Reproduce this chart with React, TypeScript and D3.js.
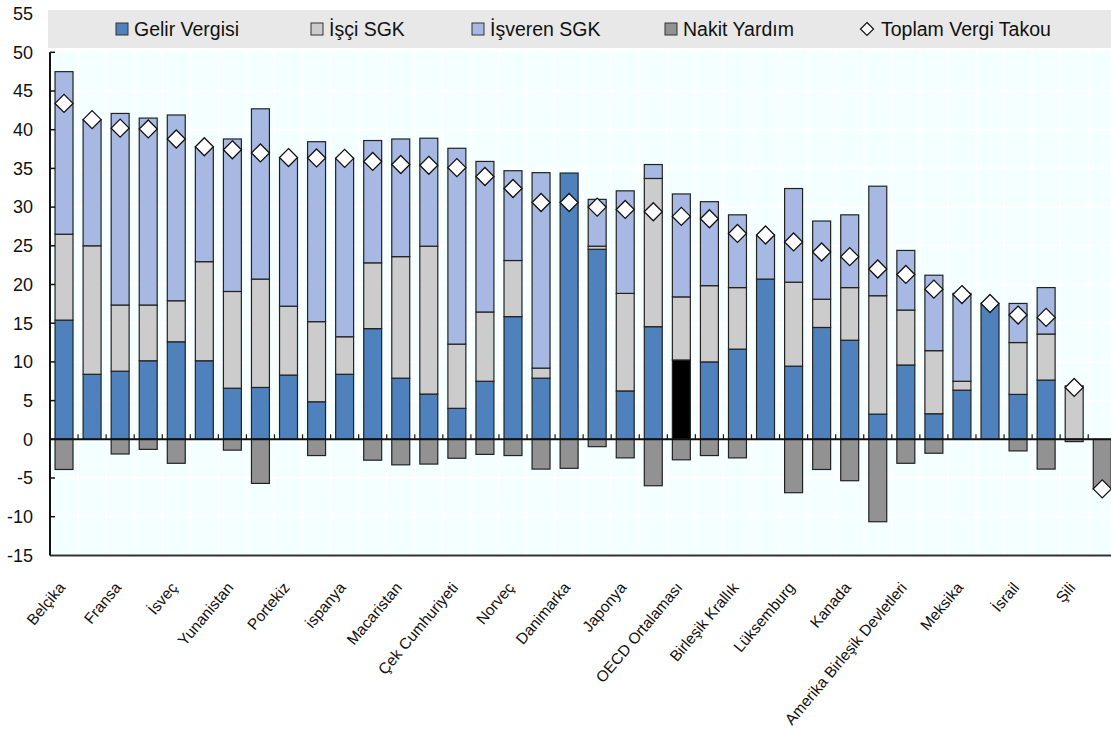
import React from "react";
import * as d3 from "d3";

// countries, every other one is labelled on the axis
const categories = [
  "Belçika", "Almanya", "Fransa", "Avusturya", "İsveç", "Finlandiya", "Yunanistan", "İtalya",
  "Portekiz", "Slovenya", "ispanya", "Türkiye", "Macaristan", "Slovakya", "Çek Cumhuriyeti", "Estonya",
  "Norveç", "Hollanda", "Danimarka", "İzlanda", "Japonya", "Polonya", "OECD Ortalaması", "Letonya",
  "Birleşik Krallık", "Avustralya", "Lüksemburg", "Kore", "Kanada", "İrlanda",
  "Amerika Birleşik Devletleri", "İsviçre", "Meksika", "Yeni Zelanda", "İsrail", "Litvanya", "Şili", "Malta",
];

const gelirVergisi = [
  15.4, 8.4, 8.8, 10.15, 12.6, 10.15, 6.6, 6.7, 8.3, 4.85, 8.4, 14.3, 7.9, 5.85, 4.0, 7.5, 15.85, 7.9, 34.4,
  24.55, 6.25, 14.55, 10.25, 10.0, 11.65, 20.7, 9.45, 14.45, 12.8, 3.25, 9.6, 3.3, 6.35, 17.55, 5.8, 7.65, 0, 0,
];
const isciSGK = [
  11.1, 16.6, 8.55, 7.2, 5.3, 12.8, 12.5, 14.0, 8.9, 10.35, 4.85, 8.5, 15.7, 19.1, 8.3, 8.95, 7.25, 1.3, 0,
  0.4, 12.6, 19.15, 8.15, 9.85, 7.95, 0, 10.85, 3.65, 6.8, 15.3, 7.1, 8.15, 1.15, 0, 6.7, 5.95, 6.9, 0,
];
const isverenSGK = [
  21.0, 16.3, 24.75, 24.15, 24.0, 14.85, 19.7, 22.0, 19.2, 23.25, 23.05, 15.8, 15.2, 13.95, 25.3, 19.45, 11.6,
  25.25, 0, 6.05, 13.25, 1.8, 13.3, 10.85, 9.4, 5.7, 12.1, 10.1, 9.4, 14.15, 7.7, 9.75, 11.35, 0, 5.05, 6.0, 0, 0,
];
const nakitYardim = [
  -3.9, 0, -1.9, -1.3, -3.1, 0, -1.4, -5.7, 0, -2.1, 0, -2.7, -3.3, -3.2, -2.45, -1.95, -2.1, -3.85, -3.75,
  -0.95, -2.4, -6.0, -2.65, -2.1, -2.4, 0, -6.9, -3.9, -5.35, -10.65, -3.1, -1.8, 0, 0, -1.5, -3.85, -0.3, -6.45,
];
const toplamVergiTakou = [
  43.4, 41.3, 40.2, 40.1, 38.8, 37.8, 37.4, 37.0, 36.4, 36.35, 36.3, 35.9, 35.5, 35.4, 35.1, 33.95, 32.4, 30.6,
  30.6, 30.0, 29.7, 29.4, 28.8, 28.5, 26.6, 26.4, 25.5, 24.2, 23.6, 22.0, 21.3, 19.4, 18.7, 17.55, 16.05, 15.75,
  6.7, -6.4,
];

const yTicks = [-15, -10, -5, 0, 5, 10, 15, 20, 25, 30, 35, 40, 45, 50, 55];

const keys = ["gelir", "isci", "isveren", "nakit"];
const colors: Record<string, string> = {
  gelir: "#4f81bd",
  isci: "#cccccc",
  isveren: "#a7b9e3",
  nakit: "#929292",
};
const legendNames = ["Gelir Vergisi", "İşçi SGK", "İşveren SGK", "Nakit Yardım"];
const legendX = [116, 311, 472, 665];

const W = 1111;
const H = 731;
const left = 50;
const step = 28.06;
const font = "'Liberation Sans', Arial, sans-serif";

export default function App() {
  const x = d3.scaleBand<string>()
    .domain(categories)
    .range([left, left + categories.length * step])
    .paddingInner(0.36)
    .paddingOuter(0.18);
  const y = d3.scaleLinear().domain([-15, 55]).range([555.4, 13.6]);

  const rows = categories.map((c, i) => ({
    cat: c,
    gelir: gelirVergisi[i],
    isci: isciSGK[i],
    isveren: isverenSGK[i],
    nakit: nakitYardim[i],
  }));
  const series = d3.stack<any>().keys(keys).offset(d3.stackOffsetDiverging)(rows);

  const plotTop = y(50) - 1;
  const plotBottom = y(-15);
  const boundaries = d3.range(categories.length + 1).map(i => left + i * step);
  const diamond = (r: number) => `M0,${-r}L${r},0L0,${r}L${-r},0Z`;

  return (
    <svg width={W} height={H} style={{ position: "absolute", left: 0, top: 0, background: "#fff" }} fontFamily={font}>
      {/* legend band */}
      <rect x={48} y={10} width={W - 48} height={38} fill="#e8e8e8" />
      {legendNames.map((n, i) => (
        <g key={n}>
          <rect x={legendX[i]} y={23} width={12} height={12} fill={colors[keys[i]]} stroke="#333" strokeWidth={1} />
          <text x={legendX[i] + 18} y={35.5} fontSize={19.5} fill="#111">{n}</text>
        </g>
      ))}
      <path d={diamond(6.5)} transform="translate(867,29)" fill="#fff" stroke="#111" strokeWidth={1.2} />
      <text x={881} y={35.5} fontSize={19.5} fill="#111">Toplam Vergi Takou</text>

      {/* plot background and grid */}
      <rect x={left} y={plotTop} width={W - left} height={plotBottom - plotTop} fill="#f4ffff" />
      {yTicks.filter(t => t > -15 && t < 50).map(t => (
        <line key={t} x1={left} x2={W} y1={y(t)} y2={y(t)} stroke="#fff" strokeWidth={2} />
      ))}
      {boundaries.slice(1).map((b, i) => (
        <line key={i} x1={b} x2={b} y1={plotTop} y2={plotBottom} stroke="#fff" strokeWidth={2} />
      ))}

      {/* stacked bars */}
      {series.map(s => (
        <g key={s.key}>
          {s.map((d, i) => {
            const h = Math.abs(y(d[0]) - y(d[1]));
            if (h < 0.01) return null;
            const fill = s.key === "gelir" && categories[i] === "OECD Ortalaması" ? "#000" : colors[s.key];
            return (
              <rect key={i} x={x(categories[i])} y={Math.min(y(d[0]), y(d[1]))}
                width={x.bandwidth()} height={h} fill={fill} stroke="#222" strokeWidth={1.2} />
            );
          })}
        </g>
      ))}

      {/* zero line and ticks */}
      <line x1={left} x2={W} y1={y(0)} y2={y(0)} stroke="#111" strokeWidth={2} />
      {boundaries.slice(1).map((b, i) => (
        <line key={i} x1={b} x2={b} y1={y(0)} y2={y(0) - 5} stroke="#111" strokeWidth={1.2} />
      ))}

      {/* total diamonds */}
      {toplamVergiTakou.map((v, i) => (
        <path key={i} d={diamond(9)}
          transform={`translate(${x(categories[i])! + x.bandwidth() / 2},${y(v)})`}
          fill="#fff" stroke="#111" strokeWidth={1.3} />
      ))}

      {/* axes */}
      <line x1={left} x2={W} y1={plotBottom} y2={plotBottom} stroke="#333" strokeWidth={2} />
      <line x1={left} x2={left} y1={y(50)} y2={plotBottom} stroke="#111" strokeWidth={2} />
      {yTicks.map(t => (
        <g key={t}>
          {t >= -10 && t <= 50 && <line x1={left} x2={left + 5} y1={y(t)} y2={y(t)} stroke="#111" strokeWidth={1.5} />}
          <text x={33} y={y(t)} dy="0.35em" textAnchor="end" fontSize={18} fill="#111">{t}</text>
        </g>
      ))}

      {/* category labels */}
      {categories.map((c, i) => i % 2 === 0 && (
        <text key={c} textAnchor="end" fontSize={15.5} fill="#111"
          transform={`translate(${x(c)! + x.bandwidth() / 2 + 2},588) rotate(-50)`}>{c}</text>
      ))}
    </svg>
  );
}
